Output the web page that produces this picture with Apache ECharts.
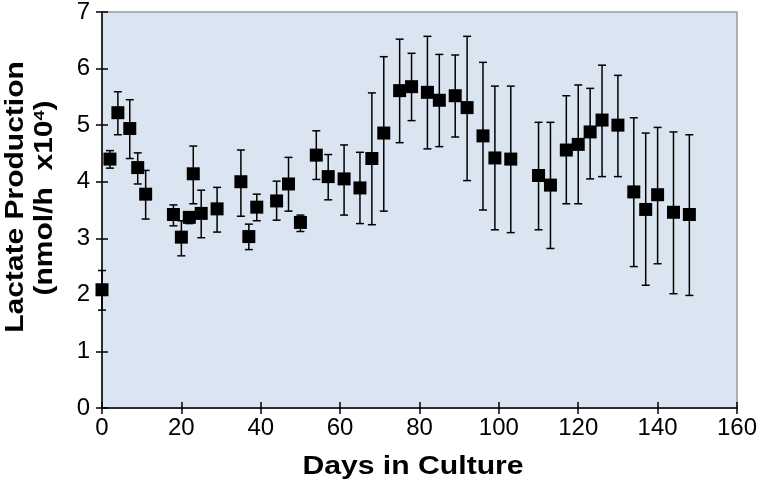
<!DOCTYPE html>
<html><head><meta charset="utf-8">
<script src="https://cdn.jsdelivr.net/npm/echarts@6/dist/echarts.min.js"></script>
<style>html,body{margin:0;padding:0;background:#fff}#c{width:760px;height:491px}</style>
</head><body><div id="c"></div>
<script>
const days = [0,2,4,7,9,11,18,20,22,23,25,29,35,37,39,44,47,50,54,57,61,65,68,71,75,78,82,85,89,92,96,99,103,110,113,117,120,123,126,130,134,137,140,144,148];
const means = [2.09,4.40,5.22,4.94,4.25,3.78,3.42,3.02,3.37,4.14,3.44,3.52,4.00,3.03,3.55,3.66,3.96,3.28,4.47,4.09,4.05,3.89,4.41,4.86,5.61,5.68,5.58,5.44,5.52,5.31,4.81,4.42,4.40,4.11,3.94,4.56,4.66,4.88,5.09,5.00,3.82,3.51,3.77,3.46,3.42];
const upper = [2.43,4.55,5.59,5.45,4.51,4.20,3.59,3.31,3.43,4.63,3.85,3.90,4.56,3.25,3.78,4.01,4.43,3.41,4.90,4.48,4.65,4.52,5.57,6.21,6.52,6.27,6.57,6.25,6.24,6.57,6.11,5.69,5.69,5.05,5.05,5.52,5.71,5.65,6.06,5.88,5.13,4.86,4.96,4.88,4.83];
const lower = [1.73,4.24,4.83,4.41,3.96,3.34,3.22,2.69,3.26,3.61,3.01,3.11,3.39,2.80,3.31,3.32,3.48,3.12,4.04,3.68,3.41,3.26,3.24,3.48,4.69,5.08,4.58,4.62,4.79,4.02,3.50,3.15,3.10,3.15,2.82,3.61,3.61,4.05,4.09,4.09,2.50,2.17,2.55,2.02,1.99];
const xTitle = 'Days in Culture';
const yTitle1 = 'Lactate Production';

const chart = echarts.init(document.getElementById('c'), null, {renderer:'canvas'});
const FONT = '"Liberation Sans", Arial, sans-serif';
const errData = days.map((d,i)=>[d, lower[i], upper[i]]);
const ptData = days.map((d,i)=>[d, means[i]]);
const axisCommon = {
  axisLine:{show:true, lineStyle:{color:'#000', width:1.5}},
  splitLine:{show:false}
};
chart.setOption({
  animation:false,
  grid:{left:102, right:19, top:12, bottom:83, show:true, backgroundColor:'#dbe5f1', borderColor:'#9a9a9a', borderWidth:1.5},
  xAxis:[
    Object.assign({type:'value', min:0, max:160, interval:20, position:'bottom',
      axisTick:{show:true, inside:false, length:6, lineStyle:{color:'#000', width:1.5}},
      axisLabel:{color:'#000', fontSize:24, fontFamily:FONT, margin:8}}, axisCommon),
    {type:'value', min:0, max:160, interval:20, position:'bottom', axisLine:{show:false},
      axisTick:{show:true, inside:true, length:6, lineStyle:{color:'#000', width:1.5}},
      axisLabel:{show:false}, splitLine:{show:false}}
  ],
  yAxis:[
    Object.assign({type:'value', min:0, max:7, interval:1, position:'left',
      axisTick:{show:true, inside:false, length:6, lineStyle:{color:'#000', width:1.5}},
      axisLabel:{color:'#000', fontSize:24, fontFamily:FONT, margin:12}}, axisCommon),
    {type:'value', min:0, max:7, interval:1, position:'left', axisLine:{show:false},
      axisTick:{show:true, inside:true, length:6, lineStyle:{color:'#000', width:1.5}},
      axisLabel:{show:false}, splitLine:{show:false}}
  ],
  series:[
    {type:'custom', xAxisIndex:0, yAxisIndex:0, data:errData, z:3,
      renderItem:function(params, api){
        const x = api.value(0);
        const lo = api.coord([x, api.value(1)]);
        const hi = api.coord([x, api.value(2)]);
        const w = 4;
        const st = {stroke:'#000', lineWidth:1.5};
        return {type:'group', children:[
          {type:'line', shape:{x1:lo[0], y1:lo[1], x2:hi[0], y2:hi[1]}, style:st},
          {type:'line', shape:{x1:lo[0]-w, y1:lo[1], x2:lo[0]+w, y2:lo[1]}, style:st},
          {type:'line', shape:{x1:hi[0]-w, y1:hi[1], x2:hi[0]+w, y2:hi[1]}, style:st}
        ]};
      }},
    {type:'scatter', xAxisIndex:0, yAxisIndex:0, data:ptData, symbol:'rect', symbolSize:13, z:4,
      itemStyle:{color:'#000', opacity:1}}
  ],
  graphic:[
    {type:'text', x:413, y:467, scaleX:1.16, z:10,
      style:{text:xTitle, font:'bold 26px '+FONT, fill:'#000', align:'center', verticalAlign:'middle'}},
    {type:'text', x:16, y:197, rotation:Math.PI/2, scaleX:1.2, z:10,
      style:{text:yTitle1, font:'bold 25px '+FONT, fill:'#000', align:'center', verticalAlign:'middle'}},
    {type:'text', x:45, y:198, rotation:Math.PI/2, scaleX:1.2, z:10,
      style:{text:'{a|(nmol/h  x10}{s|4}{a|)}', fill:'#000', align:'center', verticalAlign:'middle',
        rich:{a:{font:'bold 25px '+FONT, fill:'#000'}, s:{font:'bold 15px '+FONT, fill:'#000', padding:[0,0,10,0]}}}}
  ]
});
</script></body></html>
